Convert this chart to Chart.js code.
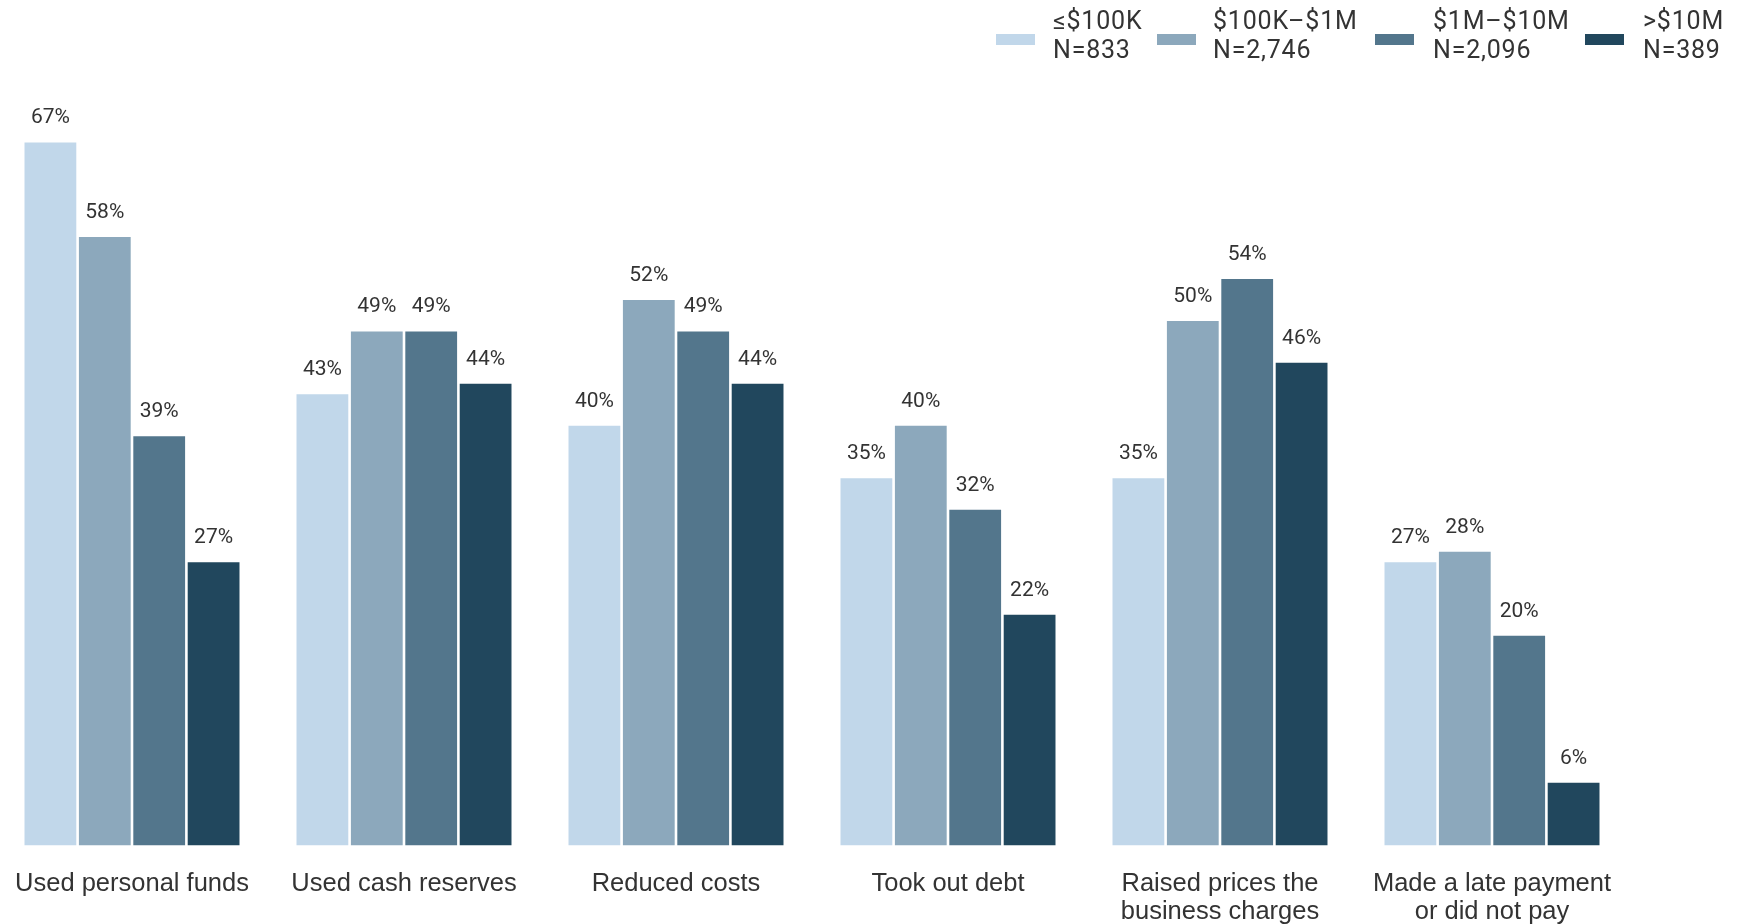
<!DOCTYPE html>
<html>
<head>
<meta charset="utf-8">
<script src="https://cdn.jsdelivr.net/npm/chart.js@4"></script>
<style>
  html, body { margin: 0; padding: 0; background: #fff; overflow: hidden; width: 1737px; height: 924px; }
  #wrap { position: absolute; left: -14px; top: 0; width: 1751px; height: 951px; }
</style>
</head>
<body>
<div id="wrap"><canvas id="c"></canvas></div>
<script>
const categories = [
  ['Used personal funds'],
  ['Used cash reserves'],
  ['Reduced costs'],
  ['Took out debt'],
  ['Raised prices the', 'business charges'],
  ['Made a late payment', 'or did not pay']
];
const seriesNames = ['≤$100K', '$100K–$1M', '$1M–$10M', '>$10M'];
const seriesN = ['N=833', 'N=2,746', 'N=2,096', 'N=389'];
const under100K = [67, 43, 40, 35, 35, 27];
const from100Kto1M = [58, 49, 52, 40, 50, 28];
const from1Mto10M = [39, 49, 49, 32, 54, 20];
const over10M = [27, 44, 44, 22, 46, 6];
const colors = ['#c1d7ea', '#8ca8bc', '#53768c', '#21475d'];

const seriesValues = [under100K, from100Kto1M, from1Mto10M, over10M];

const valueLabels = {
  id: 'valueLabels',
  afterDatasetsDraw(chart) {
    const ctx = chart.ctx;
    ctx.save();
    ctx.font = '21px Roboto';
    ctx.fillStyle = '#333333';
    ctx.textAlign = 'center';
    ctx.textBaseline = 'alphabetic';
    chart.data.datasets.forEach((ds, i) => {
      chart.getDatasetMeta(i).data.forEach((bar, j) => {
        ctx.fillText(ds.data[j] + '%', bar.x, bar.y - 19);
      });
    });
    ctx.restore();
  }
};

const customLegend = {
  id: 'customLegend',
  afterDraw(chart) {
    const ctx = chart.ctx;
    const off = 14; // canvas offset relative to page
    const swX = [996, 1157, 1375, 1585];
    const txX = [1053, 1213, 1433, 1643];
    ctx.save();
    ctx.font = '25px Roboto';
    if ('letterSpacing' in ctx) ctx.letterSpacing = '0.8px';
    ctx.textAlign = 'left';
    ctx.textBaseline = 'alphabetic';
    chart.data.datasets.forEach((ds, i) => {
      ctx.fillStyle = ds.backgroundColor;
      ctx.fillRect(swX[i] + off, 34, 39, 11);
      ctx.fillStyle = '#333333';
      ctx.fillText(seriesNames[i], txX[i] + off, 29);
      ctx.fillText(seriesN[i], txX[i] + off, 58);
    });
    ctx.restore();
  }
};

new Chart(document.getElementById('c'), {
  type: 'bar',
  data: {
    labels: categories,
    datasets: seriesValues.map((vals, i) => ({
      label: seriesNames[i],
      data: vals,
      backgroundColor: colors[i],
      borderWidth: 0,
      categoryPercentage: 0.8,
      barPercentage: 0.952
    }))
  },
  options: {
    responsive: true,
    maintainAspectRatio: false,
    animation: false,
    layout: { padding: { top: 111, left: 10, right: 109, bottom: 0 } },
    plugins: { legend: { display: false }, tooltip: { enabled: false } },
    scales: {
      x: {
        grid: { display: false, drawTicks: false },
        border: { display: false },
        ticks: {
          padding: 25,
          color: '#333333',
          font: { family: "'Liberation Sans', Arial, sans-serif", size: 25.5, lineHeight: 1.086 }
        }
      },
      y: {
        display: false,
        min: 0,
        max: 70
      }
    }
  },
  plugins: [valueLabels, customLegend]
});
</script>
</body>
</html>
